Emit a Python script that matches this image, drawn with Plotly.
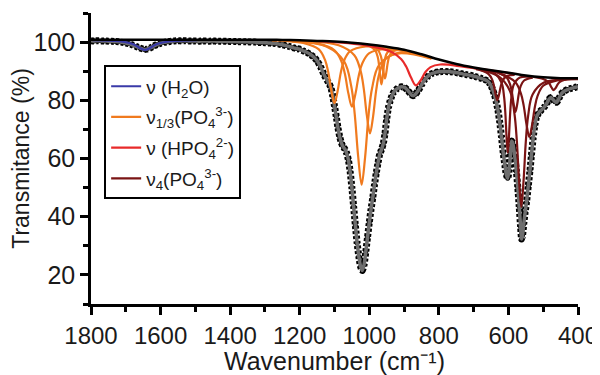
import plotly.graph_objects as go

# ---------------- data ----------------
# measured spectrum: wavenumber (cm-1) and transmittance (%)
spec_wn = [1800, 1790, 1780, 1770, 1760, 1750, 1740, 1730, 1720, 1710, 1700, 1690, 1680, 1670,
           1660, 1650, 1645, 1640, 1630, 1620, 1610, 1600, 1590, 1580, 1570, 1560, 1550, 1540,
           1530, 1520, 1510, 1500, 1490, 1480, 1470, 1460, 1450, 1440, 1430, 1420, 1410, 1400,
           1390, 1380, 1370, 1360, 1350, 1340, 1330, 1320, 1310, 1300, 1290, 1280, 1270, 1260,
           1250, 1240, 1230, 1220, 1210, 1200, 1190, 1180, 1170, 1160, 1150, 1140, 1130, 1120,
           1115, 1110, 1105, 1100, 1095, 1090, 1085, 1080, 1075, 1070, 1065, 1060, 1055, 1050,
           1045, 1040, 1035, 1030, 1025, 1020, 1015, 1010, 1005, 1000, 995, 990, 985, 980, 975,
           970, 965, 960, 955, 950, 945, 940, 935, 930, 920, 910, 900, 890, 880, 875, 870, 860,
           850, 840, 830, 820, 810, 800, 790, 780, 770, 760, 750, 740, 730, 720, 710, 700, 690,
           680, 670, 660, 655, 650, 645, 640, 635, 630, 625, 620, 615, 610, 606, 602, 598, 594,
           591, 588, 585, 581, 577, 573, 569, 565, 562, 559, 556, 552, 548, 543, 538, 534, 529,
           524, 519, 512, 504, 496, 490, 484, 478, 472, 466, 461, 455, 448, 440, 430, 420, 410, 400]
spec_T = [100.5, 100.4, 100.5, 100.4, 100.4, 100.3, 100.3, 100.2, 100.1, 99.9, 99.7, 99.4, 99.0, 98.5,
          98.0, 97.6, 97.5, 97.6, 98.0, 98.6, 99.2, 99.6, 99.9, 100.1, 100.3, 100.4, 100.5, 100.4,
          100.5, 100.4, 100.4, 100.4, 100.3, 100.4, 100.4, 100.3, 100.4, 100.3, 100.3, 100.3, 100.3, 100.2,
          100.2, 100.2, 100.1, 100.1, 100.1, 100.0, 100.0, 99.9, 99.9, 99.8, 99.7, 99.6, 99.5, 99.3,
          99.1, 98.8, 98.5, 98.1, 97.8, 97.6, 97.0, 96.5, 95.8, 94.9, 93.6, 91.5, 88.8, 86.6,
          85.6, 84.2, 81.5, 78.0, 74.5, 70.5, 67.5, 65.3, 64.0, 63.2, 61.8, 59.5, 55.5, 50.0,
          43.5, 37.0, 31.0, 26.3, 22.8, 21.5, 23.5, 28.0, 33.0, 38.0, 42.5, 46.5, 51.0, 55.0, 58.5,
          61.5, 63.0, 65.0, 68.5, 73.5, 77.5, 79.8, 81.5, 82.8, 84.0, 84.6, 84.5, 83.5, 82.0, 81.6, 81.8, 83.2,
          85.3, 87.2, 88.4, 89.2, 89.6, 89.8, 89.9, 89.9, 89.8, 89.7, 89.5, 89.3, 89.0, 88.8, 88.6, 88.3, 88.0,
          87.6, 87.2, 86.6, 86.0, 85.0, 83.6, 81.8, 79.5, 76.5, 72.5, 67.5, 62.0, 57.5, 54.5, 53.2, 56.0, 62.0,
          66.0, 65.5, 63.5, 60.0, 55.5, 50.0, 43.5, 36.5, 32.3, 34.0, 37.5, 41.5, 45.0, 50.5, 56.0, 61.0, 67.0,
          71.5, 74.3, 75.8, 76.8, 77.8, 78.9, 80.3, 81.0, 80.3, 79.5, 79.3, 80.6, 82.2, 83.1, 83.7, 84.1, 84.4, 84.7]

# baseline
base_wn = [1800, 1700, 1600, 1500, 1400, 1300, 1250, 1200, 1150, 1100, 1050, 1000, 950, 900,
           850, 800, 750, 700, 650, 600, 550, 500, 450, 400]
base_T = [100.8, 100.8, 100.8, 100.8, 100.8, 100.8, 100.75, 100.6, 100.4, 100.2, 99.8, 99.2, 98.4, 97.4,
          95.8, 94.0, 92.5, 91.3, 90.3, 89.5, 88.5, 87.9, 87.6, 87.6]

# nu(H2O) component
h2o_wn = [1795, 1720, 1690, 1675, 1660, 1645, 1630, 1615, 1600, 1570, 1495]
h2o_T = [100.7, 100.3, 99.7, 99.05, 98.0, 97.3, 98.0, 99.05, 99.7, 100.3, 100.7]

# nu1/3(PO4 3-) components
po4a_wn = [1280, 1190, 1145, 1127, 1118, 1109, 1100, 1091, 1082, 1073, 1055, 1010, 920]
po4a_T = [100.6, 99.7, 97.5, 93.8, 89.7, 83.3, 79.0, 83.2, 89.5, 93.5, 96.9, 98.5, 97.6]
po4b_wn = [1250, 1150, 1100, 1080, 1070, 1060, 1050, 1040, 1030, 1020, 1000, 950, 850]
po4b_T = [100.5, 99.55, 97.2, 93.3, 89.0, 82.3, 77.8, 82.1, 88.6, 92.7, 96.2, 97.55, 95.6]
po4c_wn = [1222, 1122, 1072, 1052, 1042, 1032, 1022, 1012, 1002, 992, 972, 922, 822]
po4c_T = [100.2, 98.4, 93.3, 84.9, 75.45, 60.8, 51.0, 60.5, 75.0, 84.15, 92.1, 96.0, 94.3]
po4d_wn = [1178, 1088, 1043, 1025, 1016, 1007, 998, 989, 980, 971, 953, 908, 818]
po4d_T = [100.2, 98.9, 95.5, 90.1, 84.1, 74.8, 68.6, 74.5, 83.6, 89.3, 94.2, 96.4, 94.35]
po4e_wn = [1000, 982.5, 975.5, 972, 968.5, 965, 961.5, 958, 954.5, 947.5, 930]
po4e_T = [98.7, 97.1, 94.8, 92.2, 88.2, 85.5, 88.1, 92.0, 94.4, 96.55, 97.5]
po4f_wn = [995, 975, 967, 963, 959, 955, 951, 947, 943, 935, 915]
po4f_T = [98.7, 97.3, 95.3, 93.1, 89.7, 87.5, 89.6, 92.85, 94.9, 96.6, 97.3]

# nu(HPO4 2-) component
hpo4_wn = [1146, 1006, 936, 908, 894, 880, 866, 852, 838, 824, 796, 726, 586]
hpo4_T = [100.3, 98.8, 96.6, 94.1, 91.6, 87.8, 85.1, 86.9, 89.8, 91.4, 92.3, 91.5, 89.1]

# nu4(PO4 3-) components
v4a_wn = [682, 657, 647, 642, 637, 632, 627, 622, 617, 607, 582]
v4a_T = [90.5, 89.0, 87.2, 85.2, 82.1, 80.0, 81.9, 84.85, 86.7, 88.2, 88.75]
v4b_wn = [672, 637, 619.5, 612.5, 609, 605.5, 602, 598.5, 595, 591.5, 584.5, 567, 532]
v4b_T = [90.5, 89.0, 86.0, 81.2, 75.9, 67.6, 62.0, 67.5, 75.65, 80.9, 85.4, 87.8, 88.0]
v4c_wn = [693, 628, 595.5, 582.5, 576, 569.5, 563, 556.5, 550, 543.5, 530.5, 498, 433]
v4c_T = [90.7, 88.2, 83.15, 75.2, 66.3, 52.6, 43.4, 52.3, 65.8, 74.5, 82.0, 86.1, 87.15]
v4d_wn = [700, 620, 580, 564, 556, 548, 540, 532, 524, 516, 500, 460, 400]
v4d_T = [91.1, 89.0, 86.2, 82.3, 78.1, 71.7, 67.4, 71.5, 77.7, 81.6, 85.0, 86.85, 87.3]
v4e_wn = [630, 605, 595, 590, 585, 580, 575, 570, 565, 555, 530]
v4e_T = [89.5, 87.8, 85.4, 82.75, 78.7, 76.0, 78.5, 82.35, 84.8, 86.8, 87.8]
v4f_wn = [530, 500, 488, 482, 476, 470, 464, 458, 452, 440, 410]
v4f_T = [88.1, 87.3, 86.5, 85.7, 84.4, 83.5, 84.3, 85.55, 86.3, 87.0, 87.4]

legend_names = ["ν (H<sub>2</sub>O)",
                "ν<sub>1/3</sub>(PO<sub>4</sub><sup>3-</sup>)",
                "ν (HPO<sub>4</sub><sup>2-</sup>)",
                "ν<sub>4</sub>(PO<sub>4</sub><sup>3-</sup>)"]
group_colors = ["#3a3aa8", "#f07a1e", "#e82a2a", "#7a1414"]
x_title = "Wavenumber (cm\u207b\u00b9)"
y_title = "Transmitance (%)"

groups = [
    [(h2o_wn, h2o_T)],
    [(po4a_wn, po4a_T), (po4b_wn, po4b_T), (po4c_wn, po4c_T), (po4d_wn, po4d_T),
     (po4e_wn, po4e_T), (po4f_wn, po4f_T)],
    [(hpo4_wn, hpo4_T)],
    [(v4a_wn, v4a_T), (v4b_wn, v4b_T), (v4c_wn, v4c_T), (v4d_wn, v4d_T),
     (v4e_wn, v4e_T), (v4f_wn, v4f_T)],
]

FONT = "Liberation Sans, Arial, sans-serif"

fig = go.Figure()

# measured points (dark dotted edge) and fitted curve (grey)
fig.add_trace(go.Scatter(x=spec_wn, y=spec_T, mode="lines+markers",
                         line=dict(color="black", width=7, dash="3px,2px", shape="spline", smoothing=0.6),
                         marker=dict(color="black", size=5),
                         showlegend=False, hoverinfo="skip"))
fig.add_trace(go.Scatter(x=spec_wn, y=spec_T, mode="lines",
                         line=dict(color="#6e6e6e", width=3.5, shape="spline", smoothing=0.6),
                         showlegend=False, hoverinfo="skip"))

# components
for gi, comps in enumerate(groups):
    for ci, (wx, ty) in enumerate(comps):
        fig.add_trace(go.Scatter(x=wx, y=ty, mode="lines",
                                 line=dict(color=group_colors[gi], width=2.2, shape="spline", smoothing=1.0),
                                 name=legend_names[gi], legendgroup="g%d" % gi,
                                 showlegend=(ci == 0)))

# baseline
fig.add_trace(go.Scatter(x=base_wn, y=base_T, mode="lines",
                         line=dict(color="black", width=2.5, shape="spline", smoothing=1.0),
                         showlegend=False, hoverinfo="skip"))

# the page body has an 8px default margin, so the figure is 8px smaller
fig.update_layout(
    width=592, height=367,
    margin=dict(l=83, r=22, t=5, b=71, autoexpand=False),
    paper_bgcolor="white", plot_bgcolor="white",
    font=dict(family=FONT, color="#1a1a1a"),
    legend=dict(x=0.027, y=0.82, xanchor="left", yanchor="top",
                bordercolor="black", borderwidth=2, bgcolor="white",
                font=dict(size=19, family=FONT, color="#1a1a1a"),
                itemwidth=30, tracegroupgap=3),
    xaxis=dict(range=[1800, 400], showgrid=False, zeroline=False, automargin=False,
               showline=True, linecolor="black", linewidth=2.5,
               ticks="outside", ticklen=8, tickwidth=2.5, tickcolor="black",
               tick0=400, dtick=200,
               minor=dict(dtick=100, ticklen=5, tickwidth=2.5, tickcolor="black", ticks="outside"),
               tickfont=dict(size=24, family=FONT),
               title=dict(text=x_title, font=dict(size=25, family=FONT))),
    yaxis=dict(range=[10, 110], showgrid=False, zeroline=False, automargin=False,
               showline=True, linecolor="black", linewidth=2.5,
               ticks="outside", ticklen=8, tickwidth=2.5, tickcolor="black",
               tick0=0, dtick=20,
               minor=dict(tick0=10, dtick=10, ticklen=5, tickwidth=2.5, tickcolor="black", ticks="outside"),
               tickfont=dict(size=25, family=FONT),
               title=dict(text=y_title, font=dict(size=23, family=FONT))),
)

fig.write_html("out.html")
